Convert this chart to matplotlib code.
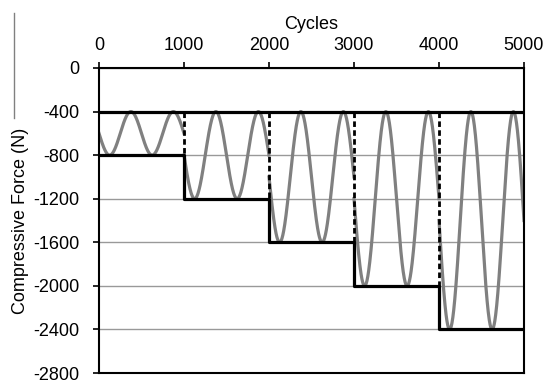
import numpy as np
import matplotlib
matplotlib.use("Agg")
import matplotlib.pyplot as plt
from matplotlib.lines import Line2D

plt.rcParams["font.family"] = ["Liberation Sans", "DejaVu Sans"]
plt.rcParams["font.size"] = 13
plt.rcParams["axes.unicode_minus"] = False

# loading blocks (cycles) and force limits (N)
block_edges = [0, 1000, 2000, 3000, 4000, 5000]
upper_force = -400
lower_force = [-800, -1200, -1600, -2000, -2400]
period = 500  # cycles per sine period

y_ticks = [0, -400, -800, -1200, -1600, -2000, -2400, -2800]
x_ticks = [0, 1000, 2000, 3000, 4000, 5000]

fig = plt.figure(figsize=(5.53, 3.81), dpi=100)
ax = fig.add_axes([99 / 553, 1 - 373 / 381, 425 / 553, 305 / 381])

# sinusoidal load within each block, between upper and lower limits
for i, low in enumerate(lower_force):
    x = np.linspace(block_edges[i], block_edges[i + 1], 400)
    mean = (upper_force + low) / 2
    amp = (upper_force - low) / 2
    y = mean - amp * np.sin(2 * np.pi * x / period)
    ax.plot(x, y, color="#808080", lw=2.3, zorder=2)

# upper limit
ax.plot([block_edges[0], block_edges[-1]], [upper_force, upper_force],
        color="black", lw=2.3, zorder=3, solid_capstyle="butt")

# lower limit as a staircase
ax.step(block_edges, lower_force + [lower_force[-1]], where="post",
        color="black", lw=2.3, zorder=3)

# dashed verticals where a new block starts
for i in range(1, len(lower_force)):
    ax.plot([block_edges[i], block_edges[i]], [upper_force, lower_force[i - 1]],
            color="black", lw=2.0, ls=(0, (2, 1.2)), zorder=3)

ax.set_xlim(0, 5000)
ax.set_ylim(-2800, 0)
ax.set_xticks(x_ticks)
ax.set_yticks(y_ticks)
ax.xaxis.tick_top()
ax.xaxis.set_label_position("top")
ax.set_xlabel("Cycles", labelpad=6)
ax.set_ylabel("Compressive Force (N)", labelpad=3)
ax.tick_params(axis="x", direction="out", length=4, width=1.2, pad=6)
ax.tick_params(axis="y", direction="out", length=4, width=1.2, pad=10)
ax.yaxis.grid(True, color="#999999", lw=1.0)
ax.set_axisbelow(True)
for s in ax.spines.values():
    s.set_linewidth(1.5)
    s.set_color("black")

# thin grey border line left over at the figure's left edge
fig.add_artist(Line2D([14 / 553, 14 / 553], [1 - 13 / 381, 1 - 118 / 381],
                      color="#808080", lw=1.0))

fig.savefig("out.png", dpi=100)
